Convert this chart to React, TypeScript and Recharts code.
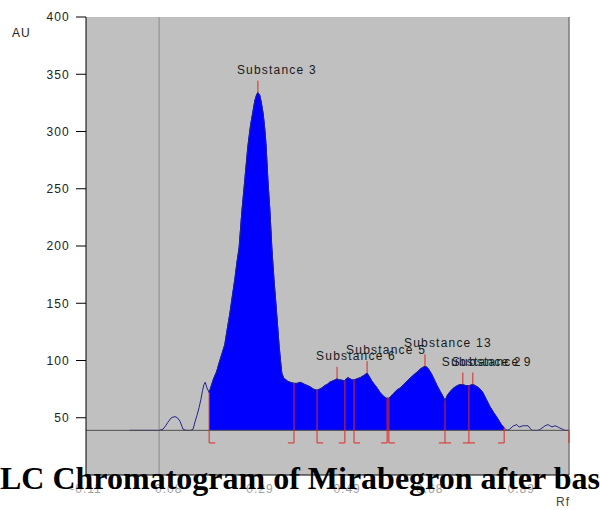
import React from 'react';
import {
  ComposedChart, XAxis, YAxis, CartesianGrid, Line, Area, Scatter, ReferenceLine,
} from 'recharts';

// scan trace: Rf position and absorbance (AU)
const rf = [
  -0.010, 0.058, 0.067, 0.073, 0.078, 0.086, 0.0945, 0.100, 0.106, 0.113,
  0.120, 0.130, 0.136, 0.141, 0.145, 0.150, 0.154, 0.158, 0.161, 0.164,
  0.168, 0.173, 0.178, 0.184, 0.190, 0.196, 0.2025, 0.209, 0.214, 0.221,
  0.227, 0.232, 0.237, 0.242, 0.248, 0.255, 0.262, 0.268, 0.273, 0.278,
  0.282, 0.285, 0.289, 0.292, 0.297, 0.301, 0.304, 0.308, 0.313, 0.317,
  0.322, 0.328, 0.334, 0.337, 0.340, 0.344, 0.347, 0.353, 0.359, 0.368,
  0.375, 0.382, 0.388, 0.393, 0.400, 0.405, 0.413, 0.421, 0.427, 0.432,
  0.438, 0.444, 0.450, 0.456, 0.462, 0.467, 0.472, 0.476, 0.485, 0.488,
  0.492, 0.497, 0.501, 0.506, 0.513, 0.520, 0.529, 0.536, 0.541, 0.547,
  0.553, 0.559, 0.566, 0.573, 0.580, 0.586, 0.591, 0.596, 0.604, 0.612,
  0.620, 0.628, 0.639, 0.651, 0.660, 0.669, 0.674, 0.678, 0.683, 0.687,
  0.692, 0.697, 0.704, 0.710, 0.715, 0.721, 0.727, 0.735, 0.743, 0.750,
  0.756, 0.763, 0.770, 0.779, 0.785, 0.789, 0.796, 0.802, 0.810, 0.818,
  0.826, 0.835, 0.843, 0.851, 0.858, 0.864, 0.869, 0.873, 0.880, 0.885,
  0.887, 0.894, 0.900, 0.906, 0.910, 0.915, 0.929, 0.934, 0.938, 0.945,
  0.952, 0.956, 0.961, 0.968, 0.974, 0.979, 0.985, 0.991, 1.000,
];
const au = [
  39, 39, 40, 43, 46, 50, 51, 50, 47, 40,
  39, 39, 40, 47, 52, 59, 66, 74, 79, 81,
  76, 72, 78, 85, 90, 98, 106, 114, 126, 142,
  158, 171, 186, 199, 229, 258, 287, 305, 316, 327,
  332, 334, 332, 327, 316, 302, 287, 258, 229, 199,
  171, 142, 112, 100, 89, 85, 84, 82, 81, 80,
  80, 81, 80, 79, 78, 77, 75, 74, 75, 76,
  78, 79, 81, 82, 83, 84, 83, 83, 82, 84,
  85, 84, 83, 83, 84, 85, 87, 89, 86, 82,
  79, 76, 72, 69, 67, 67, 69, 71, 74, 76,
  79, 82, 86, 90, 93, 95, 94, 92, 89, 86,
  82, 78, 73, 69, 65, 70, 73, 76, 78, 79,
  79, 78, 78, 79, 78, 77, 75, 72, 66, 60,
  55, 50, 45, 41, 39, 40, 42, 43, 44, 42,
  42, 43, 43, 43, 41, 39, 39, 40, 41, 43,
  44, 43, 42, 43, 42, 41, 40, 39, 39,
];

const baseline = 39;
const integrationStart = 0.173;
const integrationEnd = 0.851;

// peak labels
const peakNames = ['Substance 3', 'Substance 6', 'Substance 5', 'Substance 13', 'Substance 2', 'Substance 9'];
const peakRf = [0.285, 0.467, 0.536, 0.669, 0.756, 0.779];
const peakAu = [334, 84, 89, 95, 79, 79];

// integration separators (red brackets)
const sepRf = [0.173, 0.368, 0.421, 0.485, 0.506, 0.582, 0.586, 0.715, 0.770, 0.851, 1.0];
const sepTop = [72, 80, 74, 82, 83, 68, 67, 65, 78, 41, 39];
const sepTick = ['right', 'left', 'right', 'left', 'right', 'left', 'right', 'both', 'both', 'left', 'none'];
const bracketBottom = 28;
const bracketTick = 0.014;

const xTicks = [-0.11, 0.08, 0.29, 0.49, 0.68, 0.89];
const yTicks = [50, 100, 150, 200, 250, 300, 350, 400];
const startLineRf = 0.058;

const RED = '#dd2a22';

const traceData = rf.map((x, i) => ({
  rf: x,
  au: au[i],
  filled: x >= integrationStart && x <= integrationEnd ? au[i] : null,
}));

const peakData = peakNames.map((name, i) => ({ name, rf: peakRf[i], au: peakAu[i] }));

const PeakMarker = (props: any) => {
  const { cx, cy, payload } = props;
  return (
    <g>
      <line x1={cx} y1={cy} x2={cx} y2={cy - 12} stroke={RED} strokeWidth={1} />
      <text
        x={cx - 21}
        y={cy - 19}
        fontSize={12}
        letterSpacing={1.2}
        fontFamily="'Liberation Sans', Arial, sans-serif"
        fill="#1a1a1a"
      >
        {payload.name}
      </text>
    </g>
  );
};

const bracketSegments = () => {
  const out: any[] = [];
  sepRf.forEach((x, i) => {
    out.push(
      <ReferenceLine
        key={`v${i}`}
        segment={[{ x, y: bracketBottom }, { x, y: sepTop[i] }]}
        stroke={RED}
        strokeWidth={1}
      />
    );
    const t = sepTick[i];
    if (t === 'right' || t === 'both') {
      out.push(
        <ReferenceLine key={`r${i}`} segment={[{ x, y: bracketBottom }, { x: x + bracketTick, y: bracketBottom }]} stroke={RED} />
      );
    }
    if (t === 'left' || t === 'both') {
      out.push(
        <ReferenceLine key={`l${i}`} segment={[{ x: x - bracketTick, y: bracketBottom }, { x, y: bracketBottom }]} stroke={RED} />
      );
    }
  });
  return out;
};

const tickFont = "'Liberation Sans', Arial, sans-serif";

export default function App() {
  return (
    <div style={{ position: 'absolute', left: 0, top: 0, width: 600, height: 510, background: '#fff', overflow: 'hidden' }}>
      <ComposedChart
        width={600}
        height={510}
        data={traceData}
        margin={{ top: 17, right: 31, bottom: 0, left: 0 }}
      >
        <CartesianGrid horizontal={false} vertical={false} fill="#c0c0c0" fillOpacity={1} />
        <XAxis
          type="number"
          dataKey="rf"
          domain={[-0.11, 1.0]}
          ticks={xTicks}
          allowDataOverflow
          height={35}
          tickLine={false}
          tickSize={0}
          tickMargin={9}
          axisLine={{ stroke: '#000' }}
          tickFormatter={(v: number) => v.toFixed(2)}
          tick={{ fontSize: 12, fill: '#a0a0a0', fontFamily: tickFont, letterSpacing: 1 }}
        />
        <YAxis
          type="number"
          domain={[0, 400]}
          ticks={yTicks}
          allowDataOverflow
          width={86}
          tickSize={10}
          tickMargin={6}
          axisLine={{ stroke: '#000' }}
          tickLine={{ stroke: '#000' }}
          tick={{ fontSize: 12, fill: '#222', fontFamily: tickFont, letterSpacing: 1.2 }}
        />
        <ReferenceLine x={startLineRf} stroke="#8a8a8a" strokeWidth={1} />
        <ReferenceLine x={1.0} stroke="#7a7a7a" strokeWidth={1.5} />
        <Line
          type="linear"
          dataKey="au"
          stroke="#22228a"
          strokeWidth={1}
          dot={false}
          activeDot={false}
          isAnimationActive={false}
        />
        <Area
          type="linear"
          dataKey="filled"
          baseValue={baseline}
          stroke="#0000ff"
          fill="#0000ff"
          fillOpacity={1}
          dot={false}
          activeDot={false}
          isAnimationActive={false}
        />
        <ReferenceLine y={baseline} stroke="#505050" strokeWidth={1} />
        {bracketSegments()}
        <Scatter data={peakData} dataKey="au" shape={PeakMarker} isAnimationActive={false} />
      </ComposedChart>
      <svg width={600} height={510} style={{ position: 'absolute', left: 0, top: 0, pointerEvents: 'none' }}>
        <text x={12} y={37} fontSize={12} letterSpacing={1} fontFamily={tickFont} fill="#222">AU</text>
        <text x={556} y={506} fontSize={12} letterSpacing={1} fontFamily={tickFont} fill="#444">Rf</text>
        <text
          x={0}
          y={489}
          fontSize={32}
          fontWeight="bold"
          fontFamily="'Liberation Serif', 'Times New Roman', serif"
          fill="#000"
        >
          LC Chromatogram of Mirabegron after base
        </text>
      </svg>
    </div>
  );
}
